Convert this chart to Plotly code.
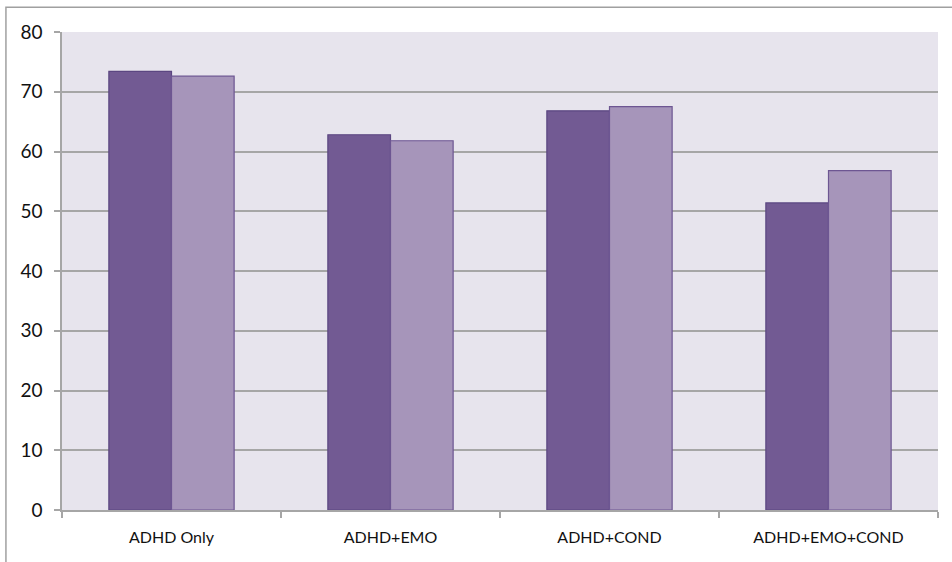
import plotly.graph_objects as go

categories = ["ADHD Only", "ADHD+EMO", "ADHD+COND", "ADHD+EMO+COND"]
series_a = [73.4, 62.8, 66.8, 51.4]
series_b = [72.6, 61.8, 67.5, 56.8]
y_ticks = [0, 10, 20, 30, 40, 50, 60, 70, 80]

grid_color = "#a6a6a6"
font_family = "Lato, 'Open Sans', sans-serif"

fig = go.Figure()
fig.add_trace(go.Bar(
    x=categories, y=series_a, name="Series 1",
    marker=dict(color="#725a93", line=dict(color="#5b4681", width=1.2)),
))
fig.add_trace(go.Bar(
    x=categories, y=series_b, name="Series 2",
    marker=dict(color="#a695ba", line=dict(color="#6d5692", width=1.2)),
))

fig.update_layout(
    width=952, height=562,
    margin=dict(l=62, r=14, t=32, b=52),
    paper_bgcolor="white",
    plot_bgcolor="#e7e4ed",
    barmode="group",
    bargap=0.428,
    bargroupgap=0,
    showlegend=False,
    font=dict(family=font_family, color="#111111"),
    xaxis=dict(
        showline=True, linecolor=grid_color, linewidth=1.5,
        ticks="outside", tickson="boundaries", ticklen=6,
        tickcolor=grid_color, tickwidth=1.5,
        tickfont=dict(size=16), showgrid=False,
        ticklabelstandoff=12,
    ),
    yaxis=dict(
        range=[0, 80], tickvals=y_ticks,
        showline=True, linecolor=grid_color, linewidth=1.5,
        ticks="outside", ticklen=6, tickcolor=grid_color, tickwidth=1.5,
        showgrid=True, gridcolor=grid_color, gridwidth=1.5,
        tickfont=dict(size=19), zeroline=False,
        ticklabelstandoff=8,
    ),
)

# Outer chart-area frame, partly running off the page
fig.add_shape(
    type="rect", xref="paper", yref="paper",
    x0=-0.064, x1=1.2, y0=-0.3, y1=1.052,
    line=dict(color="#a0a0a0", width=1.5), fillcolor="rgba(0,0,0,0)",
    layer="below",
)

fig.write_html("out.html")
